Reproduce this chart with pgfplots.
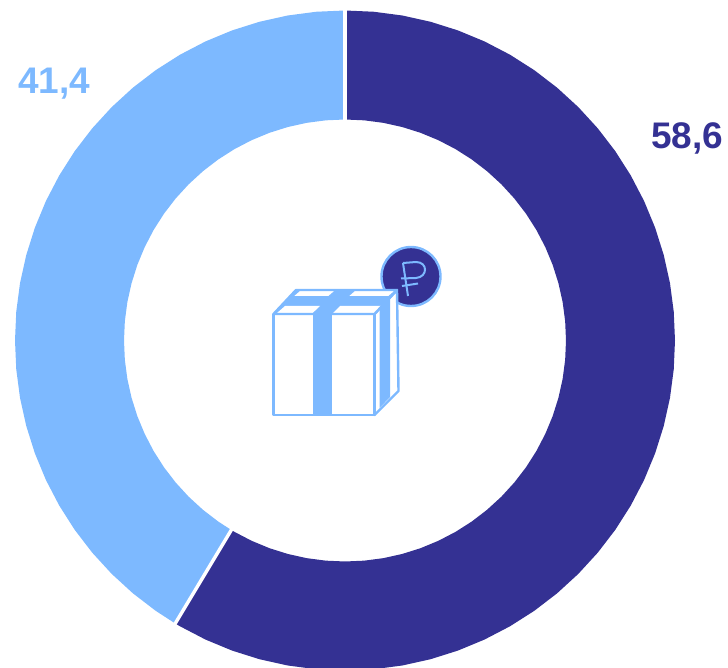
\documentclass[border=0pt]{standalone}
\usepackage{pgfplots}
\pgfplotsset{compat=1.18}
\usepackage{fontspec}
\setmainfont{Liberation Sans}
\definecolor{darkblue}{HTML}{343193}
\definecolor{lightblue}{HTML}{7DB9FF}

\begin{document}
\begin{tikzpicture}
\begin{axis}[
  name=ring,
  scale only axis, width=728pt, height=667pt,
  xmin=-345, xmax=383, ymin=-326.5, ymax=340.5,
  hide axis, clip=false
]
% share 58,6: clockwise from the top, angle, radius
\addplot[fill=darkblue, draw=none, data cs=polar] coordinates {
  (90,330) (85,330) (80,330) (75,330) (70,330) (65,330) (60,330) (55,330) (50,330) (45,330)
  (40,330) (35,330) (30,330) (25,330) (20,330) (15,330) (10,330) (5,330) (0,330)
  (-5,330) (-10,330) (-15,330) (-20,330) (-25,330) (-30,330) (-35,330) (-40,330) (-45,330)
  (-50,330) (-55,330) (-60,330) (-65,330) (-70,330) (-75,330) (-80,330) (-85,330) (-90,330)
  (-95,330) (-100,330) (-105,330) (-110,330) (-115,330) (-120,330) (-120.96,330)
  (-120.96,221) (-120,221) (-115,221) (-110,221) (-105,221) (-100,221) (-95,221) (-90,221)
  (-85,221) (-80,221) (-75,221) (-70,221) (-65,221) (-60,221) (-55,221) (-50,221) (-45,221)
  (-40,221) (-35,221) (-30,221) (-25,221) (-20,221) (-15,221) (-10,221) (-5,221) (0,221)
  (5,221) (10,221) (15,221) (20,221) (25,221) (30,221) (35,221) (40,221) (45,221)
  (50,221) (55,221) (60,221) (65,221) (70,221) (75,221) (80,221) (85,221) (90,221)
};
% share 41,4
\addplot[fill=lightblue, draw=none, data cs=polar] coordinates {
  (90,330) (95,330) (100,330) (105,330) (110,330) (115,330) (120,330) (125,330) (130,330)
  (135,330) (140,330) (145,330) (150,330) (155,330) (160,330) (165,330) (170,330) (175,330)
  (180,330) (185,330) (190,330) (195,330) (200,330) (205,330) (210,330) (215,330) (220,330)
  (225,330) (230,330) (235,330) (239.04,330)
  (239.04,221) (235,221) (230,221) (225,221) (220,221) (215,221) (210,221) (205,221) (200,221)
  (195,221) (190,221) (185,221) (180,221) (175,221) (170,221) (165,221) (160,221) (155,221)
  (150,221) (145,221) (140,221) (135,221) (130,221) (125,221) (120,221) (115,221) (110,221)
  (105,221) (100,221) (95,221) (90,221)
};
% white gaps between the segments
\addplot[white, line width=3.4pt, data cs=polar] coordinates {(90,218) (90,333)};
\addplot[white, line width=3.4pt, data cs=polar] coordinates {(239.04,218) (239.04,333)};

% labels and box icon, in image pixels
\begin{scope}[shift={(axis cs:-345,340.5)}, x=1pt, y=-1pt]
  \node[anchor=base west, inner sep=0pt, text=lightblue, font=\fontsize{37}{37}\selectfont\bfseries] at (18,94) {41,4};
  \node[anchor=base west, inner sep=0pt, text=darkblue, font=\fontsize{37}{37}\selectfont\bfseries] at (651,148.5) {58,6};

  \fill[darkblue, draw=lightblue, line width=2.4pt] (411,276.5) circle[radius=29.5];
  \begin{scope}[lightblue, line width=2pt]
    \draw (403,263) -- (408,296);
    \draw (403,263) -- (416,262) .. controls (428,262) and (428,277) .. (416,278) -- (401,278.5);
    \draw (402,286) -- (418,283.5);
  \end{scope}

  \begin{scope}[draw=lightblue, line width=2.4pt, line join=round]
    % side face and its ribbon
    \filldraw[fill=white] (397,290) -- (398.5,391) -- (374.5,415) -- (374.5,314) -- cycle;
    \fill[lightblue] (379.5,308.5) -- (390,297.5) -- (390,397) -- (379.5,408) -- cycle;
    % front face and its ribbon
    \filldraw[fill=white] (273.5,314) rectangle (374.5,415);
    \fill[lightblue] (312.5,314) rectangle (331.5,415);
    % top face: ribbon colour with four white panels
    \fill[lightblue] (296,290) -- (397,290) -- (374.5,314) -- (273.5,314) -- cycle;
    \fill[white] (294.3,296) -- (300,291) -- (334,291) -- (328.3,296) -- cycle;
    \fill[white] (349.3,296) -- (355,291) -- (394,291) -- (388.3,296) -- cycle;
    \fill[white] (276.7,313.3) -- (285,306) -- (320,306) -- (312.3,313.3) -- cycle;
    \fill[white] (332.7,313.3) -- (340,306) -- (381.7,306) -- (375,313.3) -- cycle;
    \draw (273.5,314) -- (296,290) -- (397,290) -- (374.5,314) -- cycle;
  \end{scope}
\end{scope}
\end{axis}
% page is the axis frame; the ring runs just past its lower edge
\pgfresetboundingbox
\path[use as bounding box] (ring.south west) rectangle (ring.north east);
\end{tikzpicture}
\end{document}
